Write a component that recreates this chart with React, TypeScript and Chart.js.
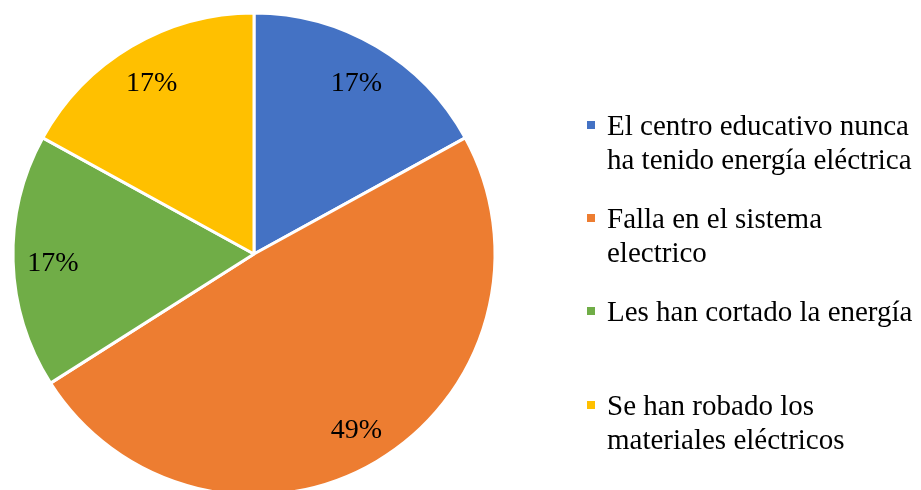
import React, { useEffect, useRef } from "react";
import { Chart, registerables } from "chart.js";

Chart.register(...registerables);

const categories: string[] = [
  "El centro educativo nunca ha tenido energía eléctrica",
  "Falla en el sistema electrico",
  "Les han cortado la energía",
  "Se han robado los materiales eléctricos",
];
const legendLines: string[][] = [
  ["El centro educativo nunca", "ha tenido energía eléctrica"],
  ["Falla en el sistema", "electrico"],
  ["Les han cortado la energía"],
  ["Se han robado los", "materiales eléctricos"],
];
const values: number[] = [17, 49, 17, 17];
const percentLabels: string[] = ["17%", "49%", "17%", "17%"];
const colors: string[] = ["#4472C4", "#ED7D31", "#70AD47", "#FFC000"];

const FONT = '"Liberation Serif"';

const labelPlugin = {
  id: "sliceLabels",
  afterDatasetsDraw(chart: any) {
    const ctx = chart.ctx;
    const meta = chart.getDatasetMeta(0);
    ctx.save();
    ctx.font = `28px ${FONT}`;
    ctx.fillStyle = "#000";
    ctx.textAlign = "center";
    ctx.textBaseline = "middle";
    meta.data.forEach((arc: any, i: number) => {
      const { x, y, startAngle, endAngle, outerRadius } = arc.getProps(
        ["x", "y", "startAngle", "endAngle", "outerRadius"],
        true
      );
      const mid = (startAngle + endAngle) / 2;
      const r = outerRadius * 0.835;
      ctx.fillText(percentLabels[i], x + Math.cos(mid) * r, y + Math.sin(mid) * r + 3);
    });
    ctx.restore();
  },
};

const legendPlugin = {
  id: "sideLegend",
  afterDraw(chart: any) {
    const ctx = chart.ctx;
    const baselines = [135, 228, 321, 415];
    const lineGap = 33.5;
    ctx.save();
    ctx.font = `29px ${FONT}`;
    ctx.textAlign = "left";
    ctx.textBaseline = "alphabetic";
    legendLines.forEach((lines, i) => {
      const b = baselines[i];
      ctx.fillStyle = colors[i];
      ctx.fillRect(587, b - 14, 8, 8);
      ctx.fillStyle = "#000";
      lines.forEach((t, j) => ctx.fillText(t, 607, b + j * lineGap));
    });
    ctx.restore();
  },
};

export default function App() {
  const ref = useRef<HTMLCanvasElement | null>(null);
  useEffect(() => {
    if (!ref.current) return;
    const chart = new Chart(ref.current, {
      type: "pie",
      data: {
        labels: categories,
        datasets: [
          {
            data: values,
            backgroundColor: colors,
            borderColor: "#ffffff",
            borderWidth: 3,
          },
        ],
      },
      options: {
        responsive: false,
        maintainAspectRatio: false,
        devicePixelRatio: 1,
        animation: false,
        layout: { padding: { left: 11.5, top: 11.5, right: 424.5, bottom: 13.5 } },
        plugins: {
          legend: { display: false },
          tooltip: { enabled: false },
        },
      },
      plugins: [labelPlugin, legendPlugin],
    });
    return () => chart.destroy();
  }, []);
  return (
    <div style={{ position: "absolute", left: 0, top: 0, width: 921, height: 510, background: "#fff" }}>
      <canvas ref={ref} width={921} height={510} style={{ display: "block", width: 921, height: 510 }} />
    </div>
  );
}
